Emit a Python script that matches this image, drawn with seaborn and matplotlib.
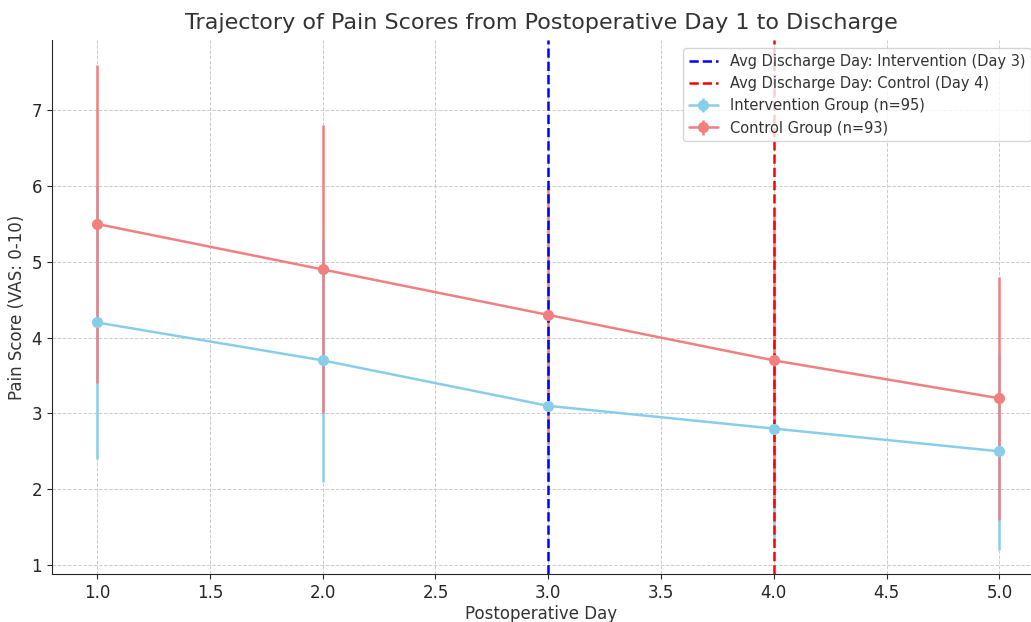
import matplotlib
matplotlib.use("Agg")
import matplotlib.pyplot as plt
import seaborn as sns

# Pain scores (VAS 0-10), mean and SD per postoperative day
days = [1, 2, 3, 4, 5]
intervention_mean = [4.2, 3.7, 3.1, 2.8, 2.5]
intervention_sd = [1.8, 1.6, 1.0, 1.5, 1.3]
control_mean = [5.5, 4.9, 4.3, 3.7, 3.2]
control_sd = [2.1, 1.9, 1.7, 1.9, 1.6]

discharge_intervention = 3
discharge_control = 4

sns.set_style("ticks")
plt.rcParams['font.family'] = ['DejaVu Sans']

fig = plt.figure(figsize=(10.31, 6.22), dpi=100)
ax = fig.add_axes([0.0504, 0.077, 0.9496, 0.859])

ax.errorbar(days, intervention_mean, yerr=intervention_sd, fmt='-o', color='skyblue',
            linewidth=1.8, elinewidth=1.8, markersize=7, label='Intervention Group (n=95)')
ax.errorbar(days, control_mean, yerr=control_sd, fmt='-o', color='lightcoral',
            linewidth=1.8, elinewidth=1.8, markersize=7, label='Control Group (n=93)')

ax.axvline(discharge_intervention, color='blue', linestyle='--', linewidth=1.8,
           label=f'Avg Discharge Day: Intervention (Day {discharge_intervention})')
ax.axvline(discharge_control, color='red', linestyle='--', linewidth=1.8,
           label=f'Avg Discharge Day: Control (Day {discharge_control})')

ax.set_xlim(0.8, 5.14)
ax.set_ylim(0.88, 7.93)
ax.set_title("Trajectory of Pain Scores from Postoperative Day 1 to Discharge",
             fontsize=16, color='#333333', pad=8)
ax.set_xlabel("Postoperative Day", fontsize=12, color='#333333', labelpad=2)
ax.set_ylabel("Pain Score (VAS: 0-10)", fontsize=12, color='#333333')
ax.tick_params(labelsize=12)
ax.grid(color='#cccccc', linestyle='--', linewidth=0.7)
sns.despine(ax=ax)

leg = ax.legend(loc='upper right', fontsize=10.5, frameon=True,
                bbox_to_anchor=(1.0, 0.985), borderaxespad=0)
for t in leg.get_texts():
    t.set_color('#333333')

fig.savefig("out.png", dpi=100)
